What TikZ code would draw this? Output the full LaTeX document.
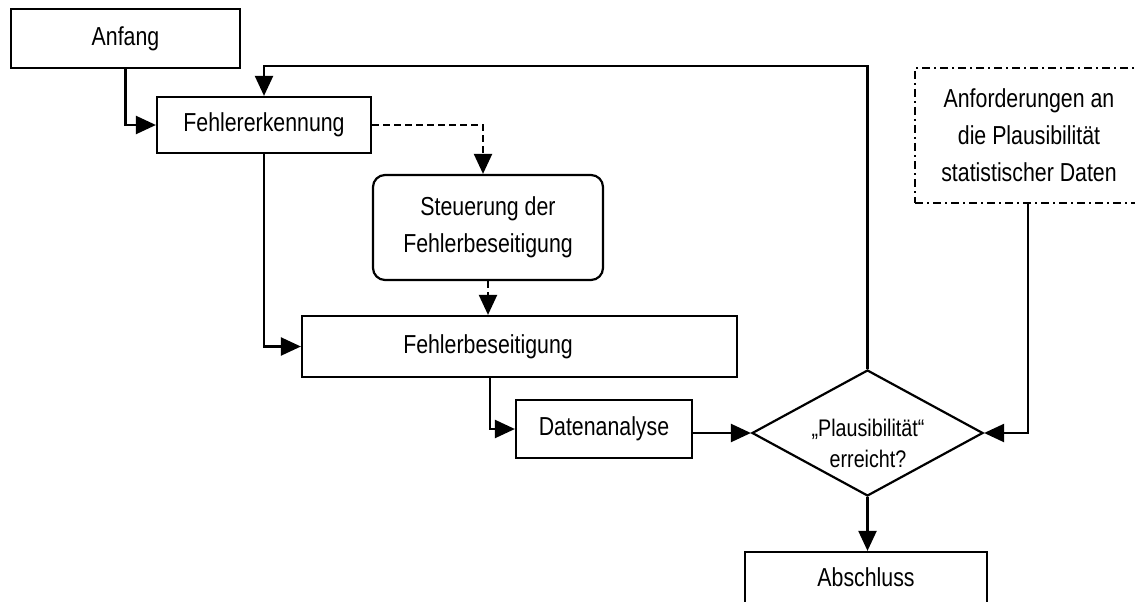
\documentclass[tikz,border=0pt]{standalone}
\usepackage{fontspec}
\setmainfont{Liberation Sans}[FakeStretch=0.82]
\usetikzlibrary{shapes.geometric,arrows.meta}
\begin{document}
\begin{tikzpicture}[x=1pt,y=-1pt,
  line width=2.2pt,
  every node/.style={font=\fontsize{26}{37}\selectfont},
  box/.style={draw,rectangle,inner sep=0pt,align=center},
  rbox/.style={draw,rectangle,rounded corners=12pt,inner sep=0pt,align=center},
  arr/.style={-{Triangle[length=20pt,width=18pt]}},
  dasharr/.style={arr,dash pattern=on 7pt off 4pt},
  dashdotbox/.style={draw,rectangle,inner sep=0pt,align=center,dash pattern=on 8pt off 4pt on 2pt off 4pt},
  dia/.style={draw,diamond,inner sep=0pt,minimum width=231pt,minimum height=126pt}
]
\useasboundingbox (0,0) rectangle (1135,602);
\clip (0,0) rectangle (1135,602);

\node[box,minimum width=229pt,minimum height=59pt] (An) at (125.5,38.5) {Anfang};
\node[box,minimum width=214pt,minimum height=56pt] (FE) at (264,125) {Fehlererkennung};
\node[rbox,minimum width=230pt,minimum height=105pt] (St) at (488,227.5) {Steuerung der\\Fehlerbeseitigung};
\node[box,minimum width=435pt,minimum height=61pt] (FB) at (519.5,346.5) {};
\node (FBt) at (488,346.5) {Fehlerbeseitigung};
\node[box,minimum width=176pt,minimum height=58pt] (Da) at (604,429) {Datenanalyse};
\node[dia] (Di) at (867.5,433) {};
\node[font=\fontsize{24}{31}\selectfont,align=center] (Dit) at (868,443) {„Plausibilität“\\erreicht?};
\node[box,minimum width=242pt,minimum height=51pt] (Ab) at (866,577.5) {Abschluss};
\node[dashdotbox,minimum width=228pt,minimum height=135pt] (Req) at (1029,135.5) {Anforderungen an\\die Plausibilität\\statistischer Daten};

\coordinate (looptop) at (0,66);
\coordinate (reqx) at (1028,0);
\coordinate (fbx) at (490,0);

\draw[arr] (An.south) |- (FE.west);
\draw[arr] (Di.north) |- (looptop -| FE.north) -- (FE.north);
\draw[dasharr] (FE.east) -| ([xshift=-5pt]St.north);
\draw[dasharr] (St.south) -- (St.south |- FB.north);
\draw[arr] (FE.south) |- (FB.west);
\draw[arr] (fbx |- FB.south) |- (Da.west);
\draw[arr] (Da.east |- Di.west) -- (Di.west);
\draw[arr] (reqx |- Req.south) |- (Di.east);
\draw[arr] (Di.south) -- (Di.south |- Ab.north);
\end{tikzpicture}
\end{document}
